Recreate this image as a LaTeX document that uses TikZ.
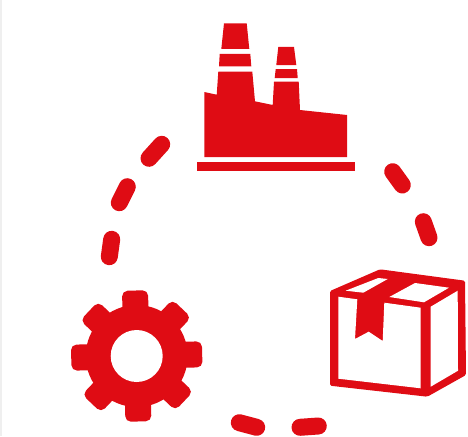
\documentclass[tikz,border=0pt]{standalone}
\definecolor{iconRed}{HTML}{DF0C14}
\definecolor{edgeGrey}{HTML}{EFEFEF}

\begin{document}
\begin{tikzpicture}[
    x=1pt, y=-1pt,
    redfill/.style={fill=iconRed, draw=none},
    whitefill/.style={fill=white, draw=none},
    dashpiece/.style={draw=iconRed, line width=17pt, line cap=round}
]
\useasboundingbox (0,0) rectangle (468,436);
\fill[edgeGrey] (0,0) rectangle (1.5,436);

% --- 1. FACTORY ---
\fill[redfill] (204.3,92) -- (216.7,94.7) -- (218.3,71.7) -- (252.3,71.7) -- (255,101.3) -- (272.7,105)
    -- (274,81.7) -- (298.7,81.7) -- (300,110) -- (347,115) -- (347,157) -- (204.3,157) -- cycle;
\fill[redfill] (219.7,54) -- (250.3,54) -- (251.3,66.3) -- (219,66.3) -- cycle;
\fill[redfill] (224,23.3) -- (246.7,23.3) -- (249.3,49) -- (221.3,49) -- cycle;
\fill[redfill] (278.3,47) -- (294,47) -- (296.3,65) -- (276.3,65) -- cycle;
\fill[redfill] (275.7,69) -- (297,69) -- (297.7,78) -- (274.7,78) -- cycle;
\fill[redfill] (197,161.7) rectangle (354.7,170.7);

% --- 2. BOX ---
\fill[redfill, rounded corners=1.5pt] (380,269.3) -- (465,280.7) -- (466,375) -- (427.3,396.7) -- (330,385.7) -- (330,291) -- cycle;
\fill[whitefill] (338.3,296.7) -- (357.3,299.3) -- (355,339) -- (368.7,331.7) -- (382.7,341) -- (384.3,302.7)
    -- (420.7,307.7) -- (420.7,388.3) -- (338.3,378.7) -- cycle;
\fill[whitefill] (430.7,306.7) -- (457.7,290.7) -- (458,370.7) -- (430.7,386.7) -- cycle;
\fill[whitefill] (345.7,290.7) -- (378.3,278) -- (387.7,279) -- (363.3,292.7) -- cycle;
\fill[whitefill] (415,283) -- (449,287.7) -- (424,302.3) -- (389.3,297) -- cycle;

% --- 3. GEAR ---
\begin{scope}[shift={(136.7,356)}]
    \fill[redfill] (0,0) circle (51);
    \foreach \ang in {1.5,46.5,...,316.5} {
        \fill[redfill, rotate=\ang, rounded corners=5.5pt] (-13,-65.5) rectangle (13,-40);
    }
    \fill[whitefill] (0,0) circle (26);
\end{scope}

% --- 4. DASHED RING ---
\draw[dashpiece] (161.7,144.3) -- (149,158.3);
\draw[dashpiece] (127.3,186.7) -- (119.3,202.7);
\draw[dashpiece] (111.7,239.3) -- (109.3,256.7);
\draw[dashpiece] (392.7,171.7) -- (402.3,185);
\draw[dashpiece] (423.3,221.7) -- (429,237.7);
\draw[dashpiece] (239.3,422.7) -- (256.7,427.3);
\draw[dashpiece] (300,427.3) -- (318.3,426);

\end{tikzpicture}
\end{document}
